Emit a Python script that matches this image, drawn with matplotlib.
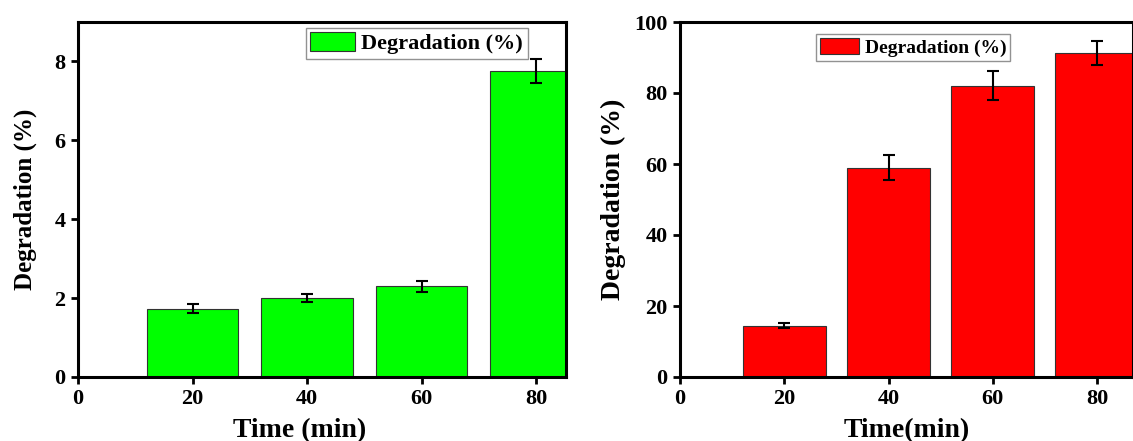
import matplotlib
matplotlib.use("Agg")
import matplotlib.pyplot as plt

# data
times = [20, 40, 60, 80]
deg_left = [1.73, 2.00, 2.30, 7.76]
err_left = [0.11, 0.11, 0.14, 0.31]
deg_right = [14.5, 59.0, 82.0, 91.3]
err_right = [0.75, 3.6, 4.1, 3.4]

plt.rcParams['font.family'] = ['Liberation Serif', 'DejaVu Serif']
plt.rcParams['font.weight'] = 'bold'

fig = plt.figure(figsize=(11.33, 4.41), dpi=100)
ax1 = fig.add_axes([78 / 1133, 64 / 441, 488 / 1133, 355 / 441])
ax2 = fig.add_axes([680 / 1133, 64 / 441, 453 / 1133, 355 / 441])


def draw_panel(ax, y, yerr, color, xmax, ymax, yticks, leg_x, leg_y, leg_fs, ylab_x, ylab_fs, xlab, xlab_x):
    ax.bar(times, y, width=16, color=color, edgecolor='#333333', linewidth=0.8,
           label='Degradation (%)', zorder=2)
    ax.errorbar(times, y, yerr=yerr, fmt='none', ecolor='black', elinewidth=1.5,
                capsize=4, capthick=1.5, zorder=3)
    ax.set_xlim(0, xmax)
    ax.set_ylim(0, ymax)
    ax.set_xticks([0, 20, 40, 60, 80])
    ax.set_yticks(yticks)
    for s in ax.spines.values():
        s.set_linewidth(2.2)
    ax.tick_params(direction='out', length=5, width=2, labelsize=16, pad=4)
    for lab in ax.get_xticklabels() + ax.get_yticklabels():
        lab.set_fontweight('bold')
    ax.set_ylabel('Degradation (%)', fontsize=ylab_fs, fontweight='bold')
    ax.yaxis.set_label_coords(ylab_x, 0.5)
    ax.set_xlabel(xlab, fontsize=20, fontweight='bold')
    ax.xaxis.set_label_coords(xlab_x, -0.115)
    leg = ax.legend(loc='upper left', bbox_to_anchor=(leg_x, leg_y), fontsize=leg_fs,
                    frameon=True, fancybox=False, shadow=False, borderpad=0.2,
                    handlelength=2.0, handleheight=0.9, handletextpad=0.3,
                    borderaxespad=0)
    leg.get_frame().set_edgecolor('#777777')
    leg.get_frame().set_linewidth(1.0)
    for t in leg.get_texts():
        t.set_fontweight('bold')


draw_panel(ax1, deg_left, err_left, '#00FF00', 85.2, 9, [0, 2, 4, 6, 8],
           0.467, 0.983, 16, -0.084, 18, 'Time (min)', 0.455)
draw_panel(ax2, deg_right, err_right, '#FF0000', 86.9, 100, [0, 20, 40, 60, 80, 100],
           0.300, 0.966, 14, -0.119, 20, 'Time(min)', 0.50)

fig.savefig('out.png', dpi=100)
